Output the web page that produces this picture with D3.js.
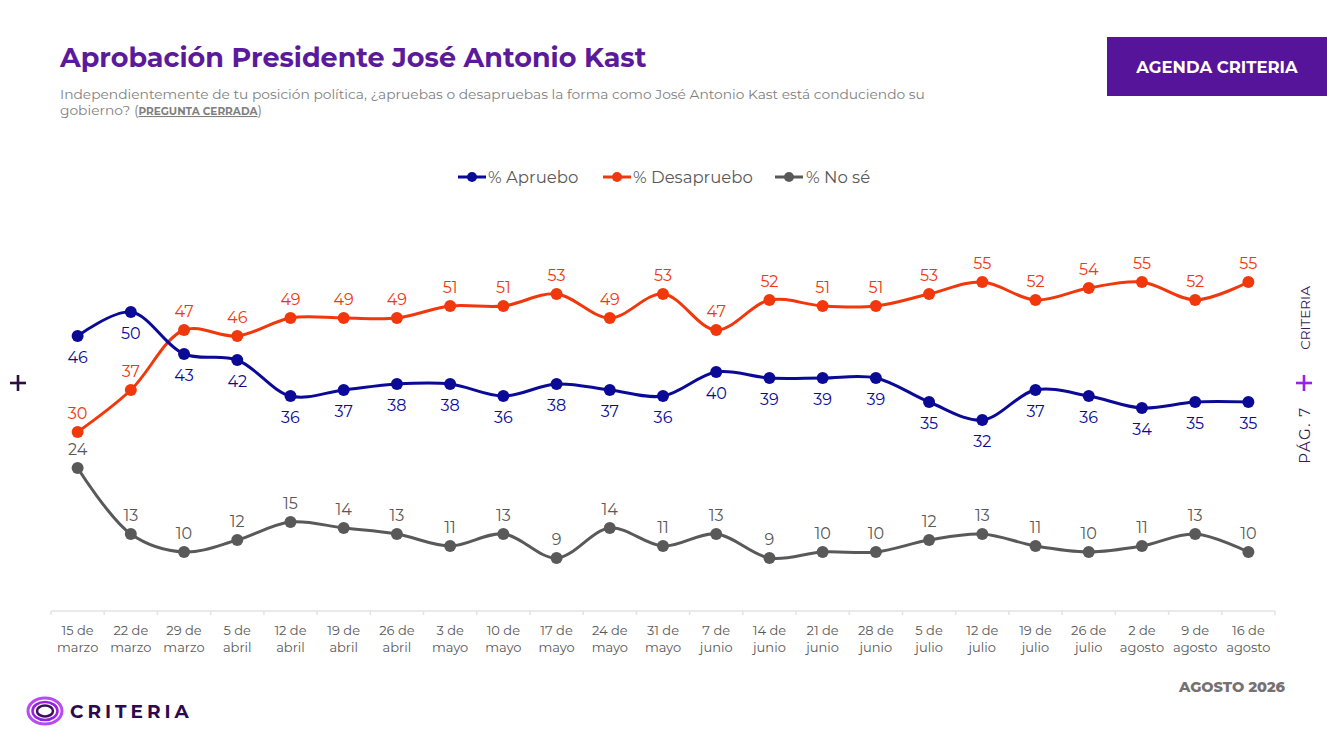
<!DOCTYPE html>
<html><head><meta charset="utf-8">
<script src="https://cdn.jsdelivr.net/npm/d3@7"></script>
<style>
html,body{margin:0;padding:0;background:#fff;}
svg{display:block;font-family:"Montserrat","Lato","Open Sans",sans-serif;}
</style></head>
<body>
<svg id="chart" width="1327" height="738"></svg>
<script>
const categories = [
  ["15 de","marzo"],["22 de","marzo"],["29 de","marzo"],["5 de","abril"],["12 de","abril"],
  ["19 de","abril"],["26 de","abril"],["3 de","mayo"],["10 de","mayo"],["17 de","mayo"],
  ["24 de","mayo"],["31 de","mayo"],["7 de","junio"],["14 de","junio"],["21 de","junio"],
  ["28 de","junio"],["5 de","julio"],["12 de","julio"],["19 de","julio"],["26 de","julio"],
  ["2 de","agosto"],["9 de","agosto"],["16 de","agosto"]
];
const apruebo =    [46,50,43,42,36,37,38,38,36,38,37,36,40,39,39,39,35,32,37,36,34,35,35];
const desapruebo = [30,37,47,46,49,49,49,51,51,53,49,53,47,52,51,51,53,55,52,54,55,52,55];
const nose =       [24,13,10,12,15,14,13,11,13, 9,14,11,13, 9,10,10,12,13,11,10,11,13,10];
const seriesNames = ["% Apruebo","% Desapruebo","% No sé"];

const svg = d3.select("#chart");
const series = [
  {name: seriesNames[0], values: apruebo, color: "#0a0a96", labelPos: "below"},
  {name: seriesNames[1], values: desapruebo, color: "#f0380c", labelPos: "above"},
  {name: seriesNames[2], values: nose, color: "#595959", labelPos: "above"}
];

const x = d3.scaleBand().domain(d3.range(categories.length)).range([51, 1275]);
const y = d3.scaleLinear().domain([0, 60]).range([612, 252]);

// Title & subtitle
svg.append("text").attr("x", 60).attr("y", 67).attr("fill", "#5b1a9c")
  .attr("font-size", 27).attr("font-weight", 700).text("Aprobación Presidente José Antonio Kast");
svg.append("text").attr("x", 60).attr("y", 99).attr("fill", "#7f7f7f").attr("font-size", 13.8)
  .text("Independientemente de tu posición política, ¿apruebas o desapruebas la forma como José Antonio Kast está conduciendo su");
const sub2 = svg.append("text").attr("x", 60).attr("y", 115).attr("fill", "#7f7f7f").attr("font-size", 13.8);
sub2.append("tspan").text("gobierno? (");
sub2.append("tspan").attr("font-size", 10.5).attr("font-weight", 700).attr("text-decoration", "underline").text("PREGUNTA CERRADA");
sub2.append("tspan").text(")");

// Box
svg.append("rect").attr("x", 1107).attr("y", 37).attr("width", 220).attr("height", 59).attr("fill", "#55149a");
svg.append("text").attr("x", 1217).attr("y", 73).attr("text-anchor", "middle").attr("fill", "#fff")
  .attr("font-size", 16.5).attr("font-weight", 700).text("AGENDA CRITERIA");

// Legend
const legendItems = [
  {x: 458, tx: 488},
  {x: 603, tx: 633},
  {x: 775, tx: 806}
];
series.forEach((s, i) => {
  const g = svg.append("g");
  const L = legendItems[i];
  g.append("line").attr("x1", L.x).attr("x2", L.x + 28).attr("y1", 177).attr("y2", 177)
    .attr("stroke", s.color).attr("stroke-width", 3);
  g.append("circle").attr("cx", L.x + 14).attr("cy", 177).attr("r", 5).attr("fill", s.color);
  g.append("text").attr("x", L.tx).attr("y", 183).attr("fill", "#595959").attr("font-size", 16.5).text(s.name);
});

// Axis
const axisG = svg.append("g").attr("transform", "translate(0,611)");
axisG.append("line").attr("x1", 51).attr("x2", 1275).attr("y1", 0).attr("y2", 0)
  .attr("stroke", "#e3e3e3").attr("stroke-width", 1.5);
const bounds = d3.range(categories.length + 1).map(i => i < categories.length ? x(i) : x.range()[1]);
axisG.selectAll("line.tick").data(bounds).join("line").attr("class", "tick")
  .attr("x1", d => d).attr("x2", d => d).attr("y1", 0).attr("y2", 4)
  .attr("stroke", "#e3e3e3").attr("stroke-width", 1.5);
const tl = axisG.selectAll("text.cat").data(categories).join("text").attr("class", "cat")
  .attr("text-anchor", "middle").attr("fill", "#595959").attr("font-size", 13);
tl.append("tspan").attr("x", (d, i) => x(i) + x.bandwidth() / 2).attr("y", 24).text(d => d[0]);
tl.append("tspan").attr("x", (d, i) => x(i) + x.bandwidth() / 2).attr("y", 41).text(d => d[1]);

// Lines
const cx = i => x(i) + x.bandwidth() / 2;
const line = d3.line().x((d, i) => cx(i)).y(d => y(d)).curve(d3.curveCatmullRom.alpha(0.5));
series.slice().reverse().forEach(s => {
  svg.append("path").datum(s.values).attr("d", line).attr("fill", "none")
    .attr("stroke", s.color).attr("stroke-width", 3);
});
series.forEach(s => {
  svg.append("g").selectAll("circle").data(s.values).join("circle")
    .attr("cx", (d, i) => cx(i)).attr("cy", d => y(d)).attr("r", 6).attr("fill", s.color);
  svg.append("g").selectAll("text").data(s.values).join("text")
    .attr("x", (d, i) => cx(i))
    .attr("y", d => s.labelPos === "below" ? y(d) + 27 : y(d) - 13)
    .attr("text-anchor", "middle").attr("fill", s.color).attr("font-size", 16)
    .text(d => d);
});

// Side decorations
function plus(cxp, cyp, color) {
  const g = svg.append("g").attr("stroke", color).attr("stroke-width", 2.6);
  g.append("line").attr("x1", cxp - 8).attr("x2", cxp + 8).attr("y1", cyp).attr("y2", cyp);
  g.append("line").attr("x1", cxp).attr("x2", cxp).attr("y1", cyp - 8).attr("y2", cyp + 8);
}
plus(18, 383, "#2a1040");
plus(1304, 383, "#9b20e8");
svg.append("text").attr("transform", "translate(1310,318) rotate(-90)").attr("text-anchor", "middle")
  .attr("fill", "#3b1a55").attr("font-size", 13.5).text("CRITERIA");
svg.append("text").attr("transform", "translate(1310,435) rotate(-90)").attr("text-anchor", "middle")
  .attr("fill", "#3b1a55").attr("font-size", 15).attr("letter-spacing", 1.5).text("PÁG. 7");

// Footer
svg.append("text").attr("x", 1285).attr("y", 692).attr("text-anchor", "end").attr("fill", "#767171")
  .attr("font-size", 14.5).attr("font-weight", 800).text("AGOSTO 2026");
const logo = svg.append("g").attr("transform", "translate(45,711)");
logo.append("ellipse").attr("rx", 17).attr("ry", 13).attr("fill", "none").attr("stroke", "#b54cf0").attr("stroke-width", 3);
logo.append("ellipse").attr("rx", 12.5).attr("ry", 9).attr("fill", "none").attr("stroke", "#9a1fe0").attr("stroke-width", 2.5);
logo.append("ellipse").attr("rx", 8).attr("ry", 5.5).attr("fill", "none").attr("stroke", "#3a0f5c").attr("stroke-width", 2.5);
svg.append("text").attr("x", 70).attr("y", 718).attr("fill", "#2d0a4e").attr("font-size", 18.5)
  .attr("font-weight", 700).attr("letter-spacing", 4).text("CRITERIA");
</script>
</body></html>
